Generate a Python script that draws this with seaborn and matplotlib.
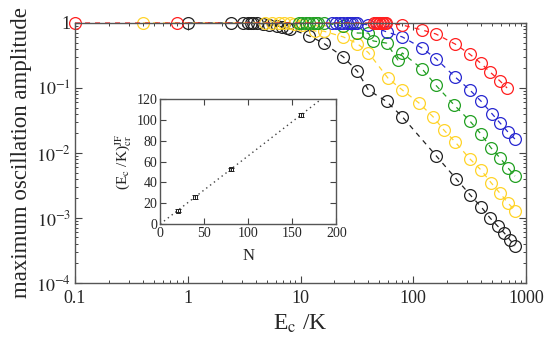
import numpy as np
import pandas as pd
import seaborn as sns
import matplotlib
matplotlib.use("Agg")
from matplotlib import pyplot
from matplotlib import ticker

sns.set_style("ticks")
pyplot.rcParams['font.family'] = ['Liberation Serif', 'DejaVu Serif']
pyplot.rcParams['mathtext.fontset'] = 'stix'

# main panel: E_c/K vs max oscillation amplitude, one series per N
black_E = [1.0, 2.4, 3.1, 3.4, 3.6, 3.8, 4.1, 4.6, 5.2, 6.2, 6.9, 7.6, 8.1,
           12, 16, 24, 32, 40, 58, 80, 160, 240, 320, 400, 480, 560, 640, 720, 800]
black_A = [1.0, 1.0, 1.0, 1.0, 1.0, 1.0, 1.0, 0.97, 0.93, 0.9, 0.87, 0.84, 0.82,
           0.63, 0.49, 0.30, 0.18, 0.093, 0.062, 0.036, 0.009, 0.004, 0.00226,
           0.00148, 0.001, 0.00075, 0.00059, 0.00046, 0.00037]

yellow_E = [0.4, 4.8, 5.6, 6.4, 7.2, 8.0, 8.8, 10.3, 13.5, 16, 24, 32, 40, 60, 80,
            112, 150, 187, 235, 318, 398, 489, 588, 692, 798]
yellow_A = [1.0, 1.0, 1.0, 1.0, 1.0, 1.0, 0.98, 0.93, 0.75, 0.75, 0.61, 0.48, 0.35,
            0.14, 0.093, 0.059, 0.036, 0.0225, 0.0148, 0.0081, 0.0055, 0.0035,
            0.0024, 0.0017, 0.0013]

green_E = [9.6, 10.4, 11.2, 12, 12.8, 13.6, 14.4, 16, 24, 32, 40, 44, 58, 73, 80,
           120, 158, 230, 318, 398, 489, 588, 692, 798]
green_A = [1.0, 1.0, 1.0, 1.0, 1.0, 1.0, 1.0, 1.0, 0.9, 0.70, 0.70, 0.53, 0.49,
           0.27, 0.345, 0.196, 0.111, 0.055, 0.031, 0.0196, 0.012, 0.0084,
           0.0059, 0.0044]

blue_E = [19.2, 20.8, 22.4, 24, 25.6, 27.2, 28.8, 30.4, 32, 40, 58, 80, 120, 160,
          235, 318, 398, 500, 588, 692, 798]
blue_A = [1.0, 1.0, 1.0, 1.0, 1.0, 1.0, 1.0, 1.0, 1.0, 0.93, 0.73, 0.61, 0.41,
          0.28, 0.148, 0.093, 0.063, 0.040, 0.029, 0.021, 0.0164]

red_E = [0.1, 0.8, 44.8, 46.4, 48, 49.6, 51.2, 52.8, 54.4, 56, 57.6, 80, 120, 158,
         235, 318, 398, 480, 588, 680]
red_A = [1.0, 1.0, 1.0, 1.0, 1.0, 1.0, 1.0, 1.0, 1.0, 1.0, 1.0, 0.93, 0.78, 0.68,
         0.475, 0.33, 0.24, 0.176, 0.128, 0.1]

# inset: critical value vs N
inset_N = [20, 40, 80, 160]
inset_crit = [13, 26, 52.5, 105]
inset_err = [1.2, 1.5, 1.8, 1.8]
fit_N = [0, 180]
fit_crit = [0, 118]

series = [
    (black_E, black_A, '#222222'),
    (yellow_E, yellow_A, '#ffd42a'),
    (green_E, green_A, '#22a022'),
    (blue_E, blue_A, '#2828d0'),
    (red_E, red_A, '#ff2020'),
]

fig = pyplot.figure(figsize=(5.56, 3.38), dpi=100)
ax = fig.add_axes([0.135, 0.163, 0.811, 0.769])

for xs, ys, col in series:
    df = pd.DataFrame({'E': xs, 'A': ys})
    sns.lineplot(data=df, x='E', y='A', ax=ax, sort=False, estimator=None,
                 color=col, linewidth=0.9, linestyle=(0, (4, 4)),
                 marker='o', markersize=8.5, markerfacecolor='none',
                 markeredgecolor=col, markeredgewidth=0.9, legend=False,
                 clip_on=False)

ax.set_xscale('log')
ax.set_yscale('log')
ax.set_xlim(0.1, 1000)
ax.set_ylim(1e-4, 1)
ax.set_xticks([0.1, 1, 10, 100, 1000], ['0.1', '1', '10', '100', '1000'])
ax.set_yticks([1e-4, 1e-3, 1e-2, 1e-1, 1],
              [r'$10^{-4}$', r'$10^{-3}$', r'$10^{-2}$', r'$10^{-1}$', '1'])
ax.xaxis.set_minor_locator(ticker.LogLocator(base=10, subs=np.arange(2, 10), numticks=20))
ax.yaxis.set_minor_locator(ticker.LogLocator(base=10, subs=np.arange(2, 10), numticks=20))
ax.xaxis.set_minor_formatter(ticker.NullFormatter())
ax.yaxis.set_minor_formatter(ticker.NullFormatter())
ax.tick_params(which='both', direction='in', top=True, right=True, color='#444444')
ax.tick_params(which='major', length=5, width=0.8, labelsize=13)
ax.tick_params(axis='x', which='major', pad=5)
ax.tick_params(axis='y', which='major', pad=3)
ax.tick_params(which='minor', length=2.5, width=0.7)
for sp in ax.spines.values():
    sp.set_color('#555555')
    sp.set_linewidth(1.0)
ax.set_xlabel(r'E$_{\rm c}$ /K', fontsize=17, labelpad=4)
ax.set_ylabel('maximum oscillation amplitude', fontsize=16.5, labelpad=3)

# inset
ins = fig.add_axes([0.288, 0.337, 0.317, 0.370])
fit_df = pd.DataFrame({'N': fit_N, 'crit': fit_crit})
sns.lineplot(data=fit_df, x='N', y='crit', ax=ins, color='#444444',
             linestyle=(0, (1, 2.5)), linewidth=1.0, legend=False)
ins.errorbar(inset_N, inset_crit, yerr=inset_err, fmt='s', ms=3.5,
             mfc='none', mec='#222222', ecolor='#222222', elinewidth=0.7,
             capsize=2, mew=0.7)
ins.set_xlim(0, 200)
ins.set_ylim(0, 120)
ins.set_xticks([0, 50, 100, 150, 200])
ins.set_yticks([0, 20, 40, 60, 80, 100, 120])
ins.tick_params(direction='in', top=True, right=True, length=4, width=0.8,
                labelsize=10, pad=2, color='#444444')
for sp in ins.spines.values():
    sp.set_color('#555555')
    sp.set_linewidth(1.0)
ins.set_xlabel('N', fontsize=12, labelpad=6)
ins.set_ylabel(r'(E$_{\rm c}$ /K)$^{\rm JF}_{\rm cr}$', fontsize=11, labelpad=2)

fig.savefig('out.png', dpi=100)
